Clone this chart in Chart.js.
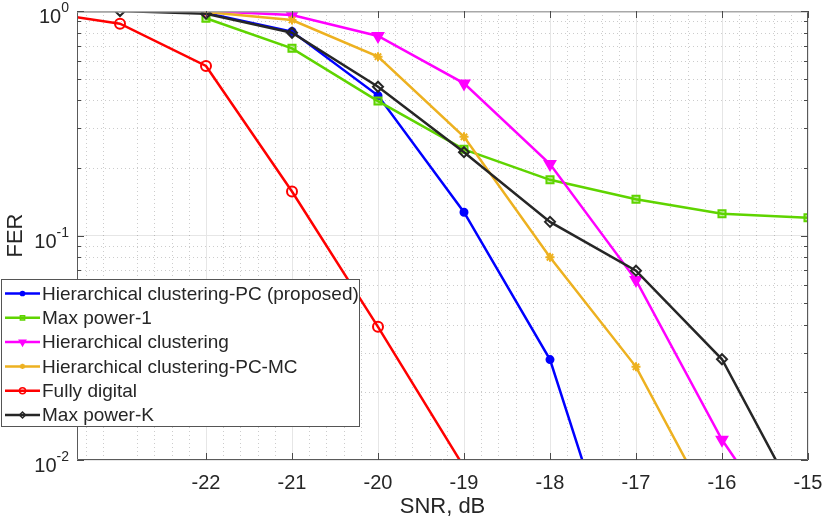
<!DOCTYPE html>
<html><head><meta charset="utf-8">
<script src="https://cdn.jsdelivr.net/npm/chart.js@4.4.0/dist/chart.umd.min.js"></script>
<style>html,body{margin:0;padding:0;background:#fff;overflow:hidden}#wrap{width:822px;height:522px}</style>
</head><body><div id="wrap"><canvas id="c" width="822" height="522"></canvas></div>
<script>
// ---- data ----
const snr = [-24, -23, -22, -21, -20, -19, -18, -17, -16, -15];
const xTicks = [-22, -21, -20, -19, -18, -17, -16, -15];
const yTicks = [0.01, 0.1, 1];
const yTickLabels = [['10', '-2'], ['10', '-1'], ['10', '0']];
const seriesNames = ['Hierarchical clustering-PC (proposed)', 'Max power-1', 'Hierarchical clustering',
  'Hierarchical clustering-PC-MC', 'Fully digital', 'Max power-K'];
const ferHcPc    = [null, null, 0.98, 0.81, 0.42, 0.127, 0.028, 0.0018, null, null];
const ferMaxP1   = [null, null, 0.928, 0.682, 0.397, 0.242, 0.177, 0.145, 0.125, 0.12];
const ferHc      = [null, null, 1.0, 0.96, 0.774, 0.476, 0.208, 0.0633, 0.0123, 0.0034];
const ferHcPcMc  = [null, null, 0.99, 0.912, 0.626, 0.275, 0.080, 0.026, 0.005, null];
const ferDigital = [1.0, 0.878, 0.569, 0.157, 0.0392, 0.0093, null, null, null, null];
const ferMaxPK   = [1.0, 1.0, 0.973, 0.80, 0.46, 0.235, 0.115, 0.0697, 0.0281, 0.0054];

const FONT = 'Liberation Sans, Arial, Helvetica, sans-serif';
const TXT = '#262626';

const styles = [
  {c: '#0000ff', ps: 'circle', r: 3.5, bg: '#0000ff', rot: 0},
  {c: '#5fd400', ps: 'rect', r: 5, bg: 'rgba(95,212,0,0.35)', rot: 0},
  {c: '#ff00ff', ps: 'triangle', r: 6, bg: '#ff00ff', rot: 180},
  {c: '#edb120', ps: 'star', r: 4.5, bg: '#edb120', rot: 0},
  {c: '#ff0000', ps: 'circle', r: 5, bg: 'rgba(0,0,0,0)', rot: 0},
  {c: '#262626', ps: 'rectRot', r: 5, bg: 'rgba(0,0,0,0)', rot: 0}
];
const allData = [ferHcPc, ferMaxP1, ferHc, ferHcPcMc, ferDigital, ferMaxPK];

const datasets = allData.map((arr, i) => ({
  label: seriesNames[i],
  data: snr.map((x, j) => ({x: x, y: arr[j]})),
  borderColor: styles[i].c,
  backgroundColor: styles[i].bg,
  borderWidth: 2.5,
  pointStyle: styles[i].ps,
  pointRadius: styles[i].r,
  pointRotation: styles[i].rot,
  pointBorderColor: styles[i].c,
  pointBackgroundColor: styles[i].bg,
  pointBorderWidth: 2,
  tension: 0,
  fill: false,
  order: 6 - i
}));

const decor = {
  id: 'decor',
  beforeDatasetsDraw(chart) {
    const {ctx, chartArea: a, scales: {x, y}} = chart;
    ctx.save();
    ctx.strokeStyle = 'rgba(0,0,0,0.2)';
    ctx.lineWidth = 1;
    ctx.setLineDash([1, 3]);
    ctx.beginPath();
    for (let v = -23.4; v < -15.01; v += 0.2) {
      const r = Math.round(v * 10) / 10;
      if (Math.abs(r - Math.round(r)) < 1e-6) continue;
      const px = Math.round(x.getPixelForValue(r)) + 0.5;
      ctx.moveTo(px, a.top); ctx.lineTo(px, a.bottom);
    }
    for (let d = -2; d < 0; d++) {
      for (let k = 2; k <= 9; k++) {
        const py = Math.round(y.getPixelForValue(k * Math.pow(10, d))) + 0.5;
        ctx.moveTo(a.left, py); ctx.lineTo(a.right, py);
      }
    }
    ctx.stroke();
    ctx.restore();
  },
  afterDatasetsDraw(chart) {
    const {ctx, chartArea: a, scales: {x, y}} = chart;
    ctx.save();
    ctx.setLineDash([]);
    ctx.lineWidth = 1;
    // box: left, bottom, right darker; top lighter
    ctx.strokeStyle = '#5a5a5a';
    ctx.beginPath();
    ctx.moveTo(a.left + 0.5, a.top); ctx.lineTo(a.left + 0.5, a.bottom - 0.5);
    ctx.lineTo(a.right - 0.5, a.bottom - 0.5); ctx.lineTo(a.right - 0.5, a.top);
    ctx.stroke();
    ctx.strokeStyle = '#a8a8a8';
    ctx.lineWidth = 1.5;
    ctx.beginPath();
    ctx.moveTo(a.left, a.top + 0.75); ctx.lineTo(a.right, a.top + 0.75);
    ctx.stroke();
    // tick marks
    ctx.strokeStyle = '#4a4a4a';
    ctx.lineWidth = 1;
    ctx.beginPath();
    xTicks.forEach(v => {
      const px = Math.round(x.getPixelForValue(v)) + 0.5;
      ctx.moveTo(px, a.bottom); ctx.lineTo(px, a.bottom - 7);
      ctx.moveTo(px, a.top); ctx.lineTo(px, a.top + 7);
    });
    yTicks.forEach(v => {
      const py = Math.round(y.getPixelForValue(v)) + 0.5;
      ctx.moveTo(a.left, py); ctx.lineTo(a.left + 7, py);
      ctx.moveTo(a.right, py); ctx.lineTo(a.right - 7, py);
    });
    for (let d = -2; d < 0; d++) {
      for (let k = 2; k <= 9; k++) {
        const py = Math.round(y.getPixelForValue(k * Math.pow(10, d))) + 0.5;
        ctx.moveTo(a.left, py); ctx.lineTo(a.left + 4, py);
        ctx.moveTo(a.right, py); ctx.lineTo(a.right - 4, py);
      }
    }
    ctx.stroke();
    // y tick labels with superscripts
    ctx.fillStyle = TXT;
    ctx.textBaseline = 'alphabetic';
    yTicks.forEach((v, i) => {
      const py = y.getPixelForValue(v);
      const [base, ex] = yTickLabels[i];
      ctx.font = '14px ' + FONT;
      const we = ctx.measureText(ex).width;
      ctx.textAlign = 'right';
      ctx.fillText(ex, a.left - 8, py + 1);
      ctx.font = '20px ' + FONT;
      ctx.fillText(base, a.left - 8 - we, py + 12);
    });
    // legend
    const lx = 1, ly = 279, lw = 359, lh = 148;
    ctx.fillStyle = '#fff';
    ctx.fillRect(lx, ly, lw, lh);
    ctx.strokeStyle = '#555';
    ctx.lineWidth = 1;
    ctx.strokeRect(lx + 0.5, ly + 0.5, lw - 1, lh - 1);
    ctx.font = '19px ' + FONT;
    ctx.textAlign = 'left';
    ctx.textBaseline = 'middle';
    chart.data.datasets.forEach((ds, i) => {
      const cy = 293.5 + i * 24.3;
      ctx.strokeStyle = ds.borderColor;
      ctx.lineWidth = 2.5;
      ctx.beginPath();
      ctx.moveTo(5, cy); ctx.lineTo(40, cy);
      ctx.stroke();
      ctx.lineWidth = 1.5;
      ctx.fillStyle = ds.pointBackgroundColor;
      Chart.helpers.drawPoint(ctx, {pointStyle: ds.pointStyle, radius: ds.pointRadius * 0.6,
        rotation: ds.pointRotation, borderWidth: 1.5}, 22.5, cy);
      ctx.fillStyle = TXT;
      ctx.fillText(ds.label, 42, cy + 1);
    });
    ctx.restore();
  }
};

new Chart(document.getElementById('c'), {
  type: 'line',
  data: {datasets},
  options: {
    responsive: false,
    animation: false,
    devicePixelRatio: 1,
    layout: {padding: {top: 11, right: 14, left: 0, bottom: 0}},
    plugins: {legend: {display: false}, tooltip: {enabled: false}},
    scales: {
      x: {
        type: 'linear', min: -23.5, max: -15,
        afterBuildTicks(s) { s.ticks = xTicks.map(v => ({value: v})); },
        afterFit(s) { s.height = 62; s.paddingLeft = 0; s.paddingRight = 0; },
        grid: {color: '#e6e6e6', lineWidth: 1, drawTicks: false},
        border: {display: false},
        ticks: {color: TXT, font: {family: FONT, size: 20}, padding: 11, maxRotation: 0,
          callback: v => String(v)},
        title: {display: true, text: 'SNR, dB', color: TXT, font: {family: FONT, size: 22},
          padding: {top: 0, bottom: 2}}
      },
      y: {
        type: 'logarithmic', min: 0.01, max: 1,
        afterBuildTicks(s) { s.ticks = yTicks.map(v => ({value: v})); },
        afterFit(s) { s.width = 77; s.paddingTop = 0; s.paddingBottom = 0; },
        grid: {color: '#e6e6e6', lineWidth: 1, drawTicks: false},
        border: {display: false},
        ticks: {display: false},
        title: {display: true, text: 'FER', color: TXT, font: {family: FONT, size: 22},
          padding: {top: 3, bottom: 0}}
      }
    }
  },
  plugins: [decor]
});
</script></body></html>
